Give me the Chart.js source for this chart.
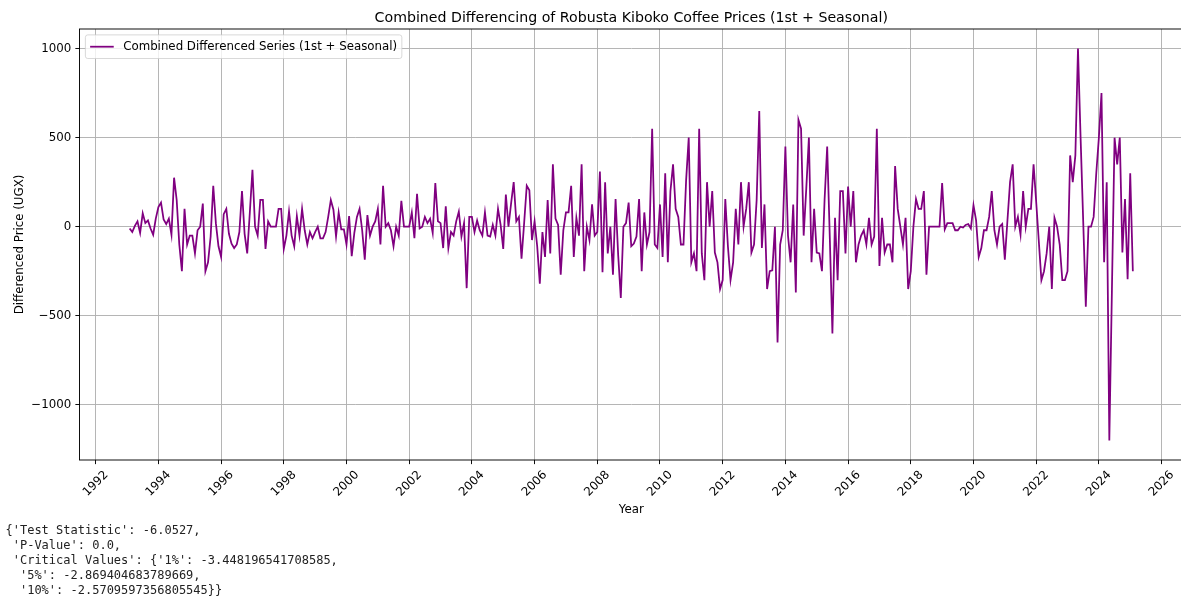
<!DOCTYPE html>
<html>
<head>
<meta charset="utf-8">
<title>Combined Differencing of Robusta Kiboko Coffee Prices</title>
<script src="https://cdn.jsdelivr.net/npm/chart.js@4.4.1/dist/chart.umd.min.js"></script>
<style>
  html, body { margin: 0; padding: 0; background: #ffffff; overflow: hidden; }
  #wrap { width: 1181px; height: 599px; overflow: hidden; }
  canvas { display: block; }
</style>
</head>
<body>
<div id="wrap"><canvas id="chart" width="1183" height="599"></canvas></div>
<script>
// First month of the differenced series (monthly observations)
const startYear = 1993;
const startMonth = 2;

// Combined (1st + seasonal) differenced Kiboko prices, UGX, one row per calendar year
const diffValues = [
  /* 1993 Feb-Dec */ -10, -30, 5, 30, -35, 75, 20, 35, -10, -45, 45,
  /* 1994 */ 110, 135, 40, 15, 45, -45, 275, 150, -100, -250, 100, -100,
  /* 1995 */ -50, -50, -150, -20, 0, 130, -250, -200, -55, 230, 20, -110,
  /* 1996 */ -170, 70, 100, -40, -95, -120, -100, -30, 200, -40, -150, 80,
  /* 1997 */ 320, 0, -50, 150, 150, -125, 30, 0, 0, 0, 100, 100,
  /* 1998 */ -125, -50, 85, -50, -110, 60, -50, 100, -20, -100, -30, -65,
  /* 1999 */ -30, 0, -65, -65, -30, 55, 150, 95, -55, 80, -15, -15,
  /* 2000 */ -100, 60, -165, -35, 55, 100, -20, -185, 65, -50, 0, 30,
  /* 2001 */ 100, -100, 230, 0, 20, -20, -110, 0, -50, 145, 0, 0,
  /* 2002 */ 0, 80, -65, 185, -10, 0, 55, 20, 45, -35, 245, 30,
  /* 2003 */ 20, -120, 115, -120, -30, -50, 30, 85, -55, 20, -345, 55,
  /* 2004 */ 55, -30, 35, -20, -50, 80, -50, -55, 10, -50, 100, 10,
  /* 2005 */ -125, 180, 0, 130, 250, 30, 55, -180, 20, 230, 205, -75,
  /* 2006 */ 30, -110, -320, -30, -170, 150, -150, 350, 45, 10, -270, -20,
  /* 2007 */ 80, 80, 230, -170, 50, -50, 350, -250, 0, -75, 125, -50,
  /* 2008 */ -30, 310, -255, 250, -150, 0, -270, 155, -160, -400, 0, 20,
  /* 2009 */ 135, -110, -95, -55, 155, -250, 80, -100, -30, 550, -100, -120,
  /* 2010 */ 125, -170, 300, -200, 200, 350, 100, 55, -100, -100, 260, 500,
  /* 2011 */ -200, -150, -250, 550, -150, -300, 250, 0, 200, -145, -200, -350,
  /* 2012 */ -300, 155, -110, -300, -200, 100, -100, 250, 0, 100, 250, -145,
  /* 2013 */ -100, 150, 650, -120, 125, -350, -250, -245, 0, -650, -100, -20,
  /* 2014 */ 450, -50, -200, 125, -370, 600, 550, -50, 215, 500, -200, 100,
  /* 2015 */ -145, -150, -250, 150, 450, -60, -600, 50, -300, 200, 200, -150,
  /* 2016 */ 225, 0, 200, -200, -100, -50, -20, -100, 50, -100, -55, 550,
  /* 2017 */ -220, 50, -145, -100, -100, -200, 340, 100, 0, -100, 50, -350,
  /* 2018 */ -250, 0, 155, 100, 100, 200, -270, 0, 0, 0, 0, 0,
  /* 2019 */ 245, -15, 20, 20, 20, -20, -20, 0, -5, 10, 15, -10,
  /* 2020 */ 120, 35, -170, -120, -20, -20, 55, 200, -20, -100, 0, 15,
  /* 2021 */ -185, 35, 250, 350, 0, 55, -45, 200, 0, 100, 100, 350,
  /* 2022 */ 140, -80, -300, -250, -150, 0, -350, 50, 0, -100, -300, -300,
  /* 2023 */ -250, 400, 250, 400, 1000, 500, 30, -450, 0, 0, 55, 300,
  /* 2024 */ 500, 750, -200, 250, -1200, -350, 500, 350, 500, -145, 155, -295,
  /* 2025 Jan-Feb */ 300, -250
];

// Axis ticks
const xTickYears = [1992, 1994, 1996, 1998, 2000, 2002, 2004, 2006, 2008, 2010, 2012,
                    2014, 2016, 2018, 2020, 2022, 2024, 2026];
const yTickValues = [-1000, -500, 0, 500, 1000];

// Texts
const chartTitle = 'Combined Differencing of Robusta Kiboko Coffee Prices (1st + Seasonal)';
const seriesLabel = 'Combined Differenced Series (1st + Seasonal)';
const xAxisLabel = 'Year';
const yAxisLabel = 'Differenced Price (UGX)';

// Augmented Dickey-Fuller result printed under the figure
const adfResultLines = [
  "{'Test Statistic': -6.0527,",
  " 'P-Value': 0.0,",
  " 'Critical Values': {'1%': -3.448196541708585,",
  "  '5%': -2.869404683789669,",
  "  '10%': -2.5709597356805545}}"
];

// ---- build points and axis limits ----
const points = diffValues.map((v, i) => ({ x: startYear + (startMonth - 1 + i) / 12, y: v }));
const xs = points.map(p => p.x), ys = points.map(p => p.y);
const xLo = Math.min(...xs), xHi = Math.max(...xs);
const yLo = Math.min(...ys), yHi = Math.max(...ys);
const xPad = (xHi - xLo) * 0.05, yPad = (yHi - yLo) * 0.05;

const FONT = "'DejaVu Sans', 'Liberation Sans', sans-serif";
const MONO = "'DejaVu Sans Mono', 'Liberation Mono', monospace";
const PT = 85 / 72;                 // pixels per point
const FS = 10 * PT;                 // base text size
const TICK_LEN = 3.5 * PT, TICK_PAD = 3.5 * PT;

const fmt = v => (v < 0 ? '\u2212' + Math.abs(v) : String(v));

const decorations = {
  id: 'decorations',
  afterDatasetsDraw(chart) {
    const ctx = chart.ctx, a = chart.chartArea;
    ctx.save();
    // axes frame
    ctx.strokeStyle = '#000';
    ctx.lineWidth = 0.8 * PT;
    ctx.strokeRect(a.left, a.top, a.right - a.left, a.bottom - a.top);

    // legend (upper left)
    ctx.font = FS + 'px ' + FONT;
    const tw = ctx.measureText(seriesLabel).width;
    const pad = 0.4 * FS, hl = 2 * FS, hp = 0.8 * FS;
    const bx = a.left + 0.5 * FS, by = a.top + 0.5 * FS;
    const bw = pad + hl + hp + tw + pad, bh = 2 * pad + 1.2 * FS;
    ctx.beginPath();
    ctx.roundRect(bx, by, bw, bh, 0.2 * FS);
    ctx.fillStyle = 'rgba(255,255,255,0.8)';
    ctx.fill();
    ctx.strokeStyle = 'rgba(204,204,204,0.8)';
    ctx.lineWidth = 0.8 * PT;
    ctx.stroke();
    const ly = by + bh / 2;
    ctx.beginPath();
    ctx.moveTo(bx + pad, ly);
    ctx.lineTo(bx + pad + hl, ly);
    ctx.strokeStyle = '#800080';
    ctx.lineWidth = 1.5 * PT;
    ctx.stroke();
    ctx.fillStyle = '#000';
    ctx.textAlign = 'left';
    ctx.textBaseline = 'middle';
    ctx.fillText(seriesLabel, bx + pad + hl + hp, ly + 0.5);
    ctx.restore();
  },
  afterDraw(chart) {
    const ctx = chart.ctx, a = chart.chartArea;
    const xScale = chart.scales.x;
    ctx.save();
    ctx.fillStyle = '#000';

    // title
    ctx.font = (12 * PT) + 'px ' + FONT;
    ctx.textAlign = 'center';
    ctx.textBaseline = 'alphabetic';
    ctx.fillText(chartTitle, (a.left + a.right) / 2, a.top - 6 * PT);

    // rotated year labels
    ctx.font = FS + 'px ' + FONT;
    let boxBottom = a.bottom;
    xTickYears.forEach(yr => {
      const px = xScale.getPixelForValue(yr);
      const w = ctx.measureText(String(yr)).width;
      const h = FS * 1.164;
      const box = (w + h) * Math.SQRT1_2;
      const cy = a.bottom + TICK_LEN + TICK_PAD + box / 2;
      boxBottom = Math.max(boxBottom, cy + box / 2);
      ctx.save();
      ctx.translate(px, cy);
      ctx.rotate(-Math.PI / 4);
      ctx.textAlign = 'center';
      ctx.textBaseline = 'middle';
      ctx.fillText(String(yr), 0, 0);
      ctx.restore();
    });

    // axis titles
    ctx.textAlign = 'center';
    ctx.textBaseline = 'top';
    ctx.fillText(xAxisLabel, (a.left + a.right) / 2, boxBottom + 4 * PT);
    ctx.save();
    ctx.translate(20, (a.top + a.bottom) / 2);
    ctx.rotate(-Math.PI / 2);
    ctx.textBaseline = 'middle';
    ctx.fillText(yAxisLabel, 0, 0);
    ctx.restore();

    // ADF output
    ctx.font = '12px ' + MONO;
    ctx.fillStyle = '#222';
    ctx.textAlign = 'left';
    ctx.textBaseline = 'middle';
    adfResultLines.forEach((line, k) => ctx.fillText(line, 5.5, 531 + k * 15));
    ctx.restore();
  }
};

new Chart(document.getElementById('chart'), {
  type: 'line',
  data: {
    datasets: [{
      label: seriesLabel,
      data: points,
      borderColor: '#800080',
      backgroundColor: '#800080',
      borderWidth: 1.5 * PT,
      pointRadius: 0,
      pointHoverRadius: 0,
      tension: 0,
      fill: false
    }]
  },
  options: {
    responsive: false,
    devicePixelRatio: 1,
    animation: false,
    events: [],
    parsing: false,
    layout: { padding: { top: 29, left: 0, right: 0, bottom: 0 } },
    plugins: {
      legend: { display: false },
      title: { display: false },
      tooltip: { enabled: false }
    },
    scales: {
      x: {
        type: 'linear',
        min: xLo - xPad,
        max: xHi + xPad,
        afterBuildTicks: s => { s.ticks = xTickYears.map(v => ({ value: v })); },
        afterFit: s => { s.height = 599 - 460; },
        ticks: { display: false },
        grid: {
          color: '#b0b0b0', lineWidth: 0.8 * PT,
          drawTicks: true, tickLength: TICK_LEN, tickColor: '#000', tickWidth: 0.8 * PT
        },
        border: { display: false }
      },
      y: {
        type: 'linear',
        min: yLo - yPad,
        max: yHi + yPad,
        afterBuildTicks: s => { s.ticks = yTickValues.map(v => ({ value: v })); },
        afterFit: s => { s.width = 79.5; },
        ticks: {
          color: '#000',
          font: { family: FONT, size: FS },
          padding: TICK_PAD,
          callback: v => fmt(v)
        },
        grid: {
          color: '#b0b0b0', lineWidth: 0.8 * PT,
          drawTicks: true, tickLength: TICK_LEN, tickColor: '#000', tickWidth: 0.8 * PT
        },
        border: { display: false }
      }
    }
  },
  plugins: [decorations]
});
</script>
</body>
</html>
